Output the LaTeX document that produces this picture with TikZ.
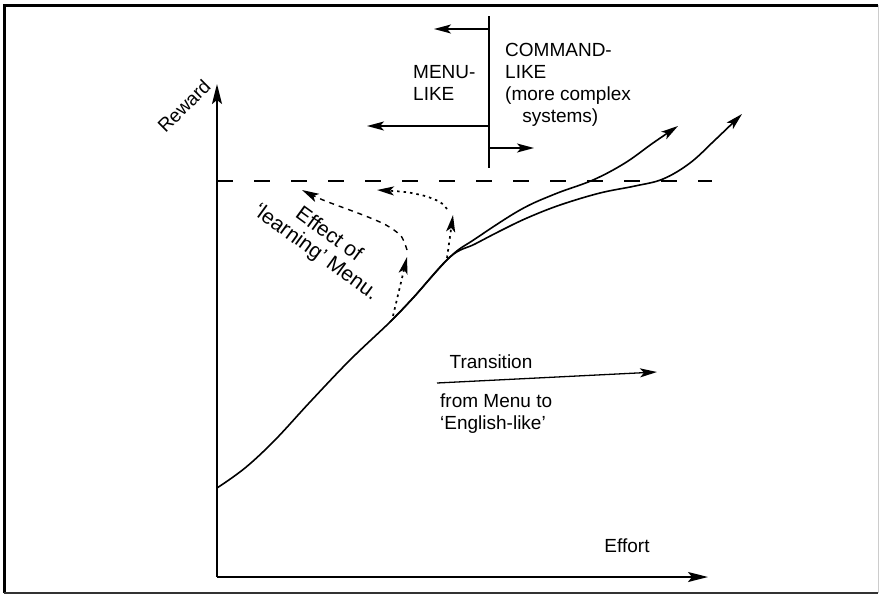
\documentclass[tikz,border=0pt]{standalone}
\usepackage{fontspec}
\setmainfont{Liberation Sans}
\usetikzlibrary{arrows.meta}
\begin{document}
\begin{tikzpicture}[x=1pt,y=-1pt,
  lbl/.style={font=\fontsize{19}{22}\selectfont, inner sep=0pt, align=left},
  biglbl/.style={font=\fontsize{21}{22}\selectfont, inner sep=0pt, align=center},
  axisline/.style={line width=2pt, -{Stealth[length=20pt,width=10pt,inset=4pt]}},
  pointer/.style={line width=1.3pt, -{Stealth[length=17pt,width=9pt,inset=4pt]}},
  graphcurve/.style={line width=1.6pt, -{Stealth[length=17pt,width=9pt,inset=4pt]}},
  ceiling/.style={line width=1.3pt, dash pattern=on 16pt off 21pt},
  dashtrace/.style={line width=1.4pt, dash pattern=on 5pt off 5pt, -{Stealth[length=17pt,width=9pt,inset=4pt]}},
  dottrace/.style={line width=1.7pt, dash pattern=on 2.5pt off 4pt, -{Stealth[length=17pt,width=9pt,inset=4pt]}}
]
\useasboundingbox (0,0) rectangle (880,595);
\fill[white] (0,0) rectangle (880,595);

% frame
\draw[line width=3pt] (4,593) -- (4,5) -- (878,5);
\draw[line width=1.2pt, black!80] (4,593) -- (878,593);
\draw[line width=1pt, black!20] (878,5) -- (878,593);

% axes
\coordinate (origin) at (217,577);
\coordinate (ytop) at (217,84);
\coordinate (xend) at (708,577);
\draw[axisline] (origin) -- (ytop);
\draw[axisline] (origin) -- (xend);
\node[lbl, rotate=45] (reward) at (184,106) {Reward};
\node[lbl] (effort) at (627,546) {Effort};

% reward ceiling
\coordinate (ceilL) at (217,181);
\coordinate (ceilR) at (712,181);
\draw[ceiling] (ceilL) -- (ceilR);

% divider between menu-like and command-like
\coordinate (divtop) at (489,16);
\coordinate (divbot) at (489,168);
\draw[line width=1.6pt] (divtop) -- (divbot);
\coordinate (a1s) at (489,29);  \coordinate (a1e) at (434,29);
\coordinate (a2s) at (489,126); \coordinate (a2e) at (367,126);
\coordinate (a3s) at (489,148); \coordinate (a3e) at (534,148);
\draw[pointer] (a1s) -- (a1e);
\draw[pointer] (a2s) -- (a2e);
\draw[pointer] (a3s) -- (a3e);
\node[lbl, anchor=north west] (menulike) at (413,65) {MENU-\\LIKE};
\node[lbl, anchor=north west] (cmdlike) at (505,43) {COMMAND-\\LIKE\\(more complex\\\hspace*{0.9em}systems)};

% the two effort/reward curves
\draw[graphcurve] plot[smooth, tension=0.6] coordinates {
  (217,488) (245,468) (275,440) (310,402) (350,360) (390,322) (413,298) (450,257)
  (475,239) (520,210) (555,194) (593,180) (625,163) (653,143) (678,126)};
\draw[graphcurve] plot[smooth, tension=0.6] coordinates {
  (390,322) (413,298) (450,257)
  (475,244) (500,231) (527,218) (560,205) (600,193) (635,186) (663,179) (690,163) (715,140) (742,114)};

% learning effect
\coordinate (l1s) at (393,316); \coordinate (l1e) at (407,257);
\draw[dottrace] (l1s) -- (l1e);
\draw[dashtrace] plot[smooth] coordinates {(407,250) (401,236) (386,225) (363,215) (323,200) (302,190)};
\coordinate (l2s) at (447,258); \coordinate (l2e) at (453,215);
\draw[dottrace] (l2s) -- (l2e);
\draw[dottrace] plot[smooth] coordinates {(447,209) (440,202) (425,196) (405,192) (377,190)};
\node[biglbl, rotate=-36] (effect) at (322,244) {Effect of\\‘learning’ Menu.};

% transition
\coordinate (ts) at (437,383);
\coordinate (te) at (657,372);
\draw[pointer] (ts) -- (te);
\node[lbl] (trans) at (491,362) {Transition};
\node[lbl, anchor=north west] (fromto) at (440,394) {from Menu to\\‘English-like’};
\end{tikzpicture}
\end{document}
